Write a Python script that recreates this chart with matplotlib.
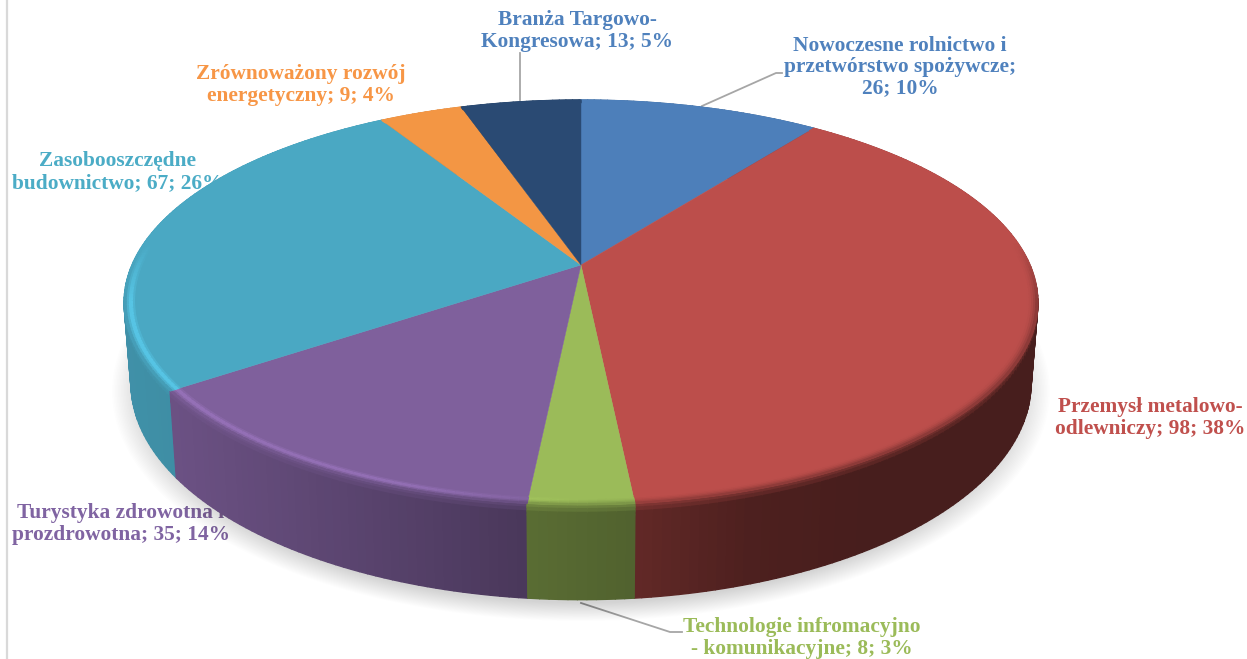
import numpy as np
import matplotlib
matplotlib.use("Agg")
import matplotlib.pyplot as plt
from matplotlib.collections import PolyCollection

categories = [
    "Nowoczesne rolnictwo i\nprzetwórstwo spożywcze;",
    "Przemysł metalowo-\nodlewniczy;",
    "Technologie infromacyjno\n- komunikacyjne;",
    "Turystyka zdrowotna i\nprozdrowotna;",
    "Zasobooszczędne\nbudownictwo;",
    "Zrównoważony rozwój\nenergetyczny;",
    "Branża Targowo-\nKongresowa;",
]
values = [26, 98, 8, 35, 67, 9, 13]
percents = [10, 38, 3, 14, 26, 4, 5]
slice_colors = ["#4d7fba", "#bc4e4b", "#9bbb59", "#7f609c", "#4aa8c3", "#f39644", "#2a4a73"]
label_colors = ["#4f81bd", "#c0504d", "#9bbb59", "#8064a2", "#4bacc6", "#f79646", "#4f81bd"]
label_pos = [(900, 67), (1150, 418), (802, 638), (121, 524), (118, 172), (301, 85), (577, 31)]

CX, CY = 581, 265
A, B, K = 449, 195.5, 0.185
CY2, SX2, SY2 = 343, 0.985, 1.07


def top_xy(theta, r=1.0):
    u, v = r * np.sin(theta), -r * np.cos(theta)
    d = 1 - K * v
    return CX + A * u / d, CY + B * v / d


def bottom_xy(theta):
    u, v = np.sin(theta), -np.cos(theta)
    d = 1 - K * v
    return CX + SX2 * A * u / d, CY2 + SY2 * B * v / d


def hex_rgb(c):
    return np.array(matplotlib.colors.to_rgb(c))


def side_shade(x):
    return np.interp(x, [130, 178, 527, 635, 750, 860], [0.86, 0.84, 0.58, 0.52, 0.41, 0.38])


def add_side_and_rim(ax, edges):
    rim_polys, rim_cols = [], []
    side = []
    for i, col in enumerate(slice_colors):
        base = hex_rgb(col)
        th = np.arange(edges[i], edges[i + 1], np.radians(1.0))
        th = np.append(th, edges[i + 1])
        for t0, t1 in zip(th[:-1], th[1:]):
            mid = (t0 + t1) / 2
            xm, _ = top_xy(mid)
            v = -np.cos(mid)
            fade = np.clip((v + 0.12) / 0.3, 0, 1)
            dark = base * side_shade(xm)
            hl = np.clip((600 - xm) / 200, 0, 1) * fade
            edge_col = base * (1 - 0.5 * fade) + dark * 0.5 * fade

            # rim of the top face, bevel look
            radii = np.linspace(0.978, 1.0, 6)
            for j in range(5):
                tt = (j + 0.5) / 5
                s = tt ** 2 * 0.5 * fade
                c = base * (1 - s) + dark * s
                c = c * (1 + 0.2 * hl * np.sin(np.pi * min(tt * 1.2, 1)))
                a0, b0 = top_xy(t0, radii[j])
                a1, b1 = top_xy(t1, radii[j])
                a2, b2 = top_xy(t1, radii[j + 1])
                a3, b3 = top_xy(t0, radii[j + 1])
                rim_polys.append([(a0, b0), (a1, b1), (a2, b2), (a3, b3)])
                rim_cols.append(np.clip(c, 0, 1))

            # side wall, soft edge just under the rim
            x0, y0 = top_xy(t0)
            x1, y1 = top_xy(t1)
            x2, y2 = bottom_xy(t1)
            x3, y3 = bottom_xy(t0)
            steps = [0, 0.04, 0.08, 0.12, 1]
            for j in range(4):
                f0, f1 = steps[j], steps[j + 1]
                mix = min(f1 / 0.12, 1)
                c = edge_col * (1 - mix) + dark * mix
                p = [
                    (x0 + (x3 - x0) * f0, y0 + (y3 - y0) * f0),
                    (x1 + (x2 - x1) * f0, y1 + (y2 - y1) * f0),
                    (x1 + (x2 - x1) * f1, y1 + (y2 - y1) * f1),
                    (x0 + (x3 - x0) * f1, y0 + (y3 - y0) * f1),
                ]
                side.append((v, p, np.clip(c, 0, 1)))

    side.sort(key=lambda s: s[0])
    ax.add_collection(PolyCollection([s[1] for s in side], facecolors=[s[2] for s in side],
                                     edgecolors="face", linewidths=1.0, zorder=3))
    ax.add_collection(PolyCollection(rim_polys, facecolors=rim_cols, edgecolors="face",
                                     linewidths=0.8, zorder=5))


def main():
    fig = plt.figure(figsize=(12.47, 6.59), dpi=100)
    ax = fig.add_axes([0, 0, 1, 1])
    ax.set_xlim(0, 1247)
    ax.set_ylim(659, 0)
    ax.axis("off")

    # chart border on the left
    ax.plot([7, 7], [0, 659], color="#d9d9d9", lw=1.6, zorder=1)

    # labels sit under the pie, it covers a bit of them
    for name, val, pct, col, pos in zip(categories, values, percents, label_colors, label_pos):
        if name.startswith("Nowoczesne"):
            txt = f"{name}\n{val}; {pct}%"
        else:
            txt = f"{name} {val}; {pct}%"
        ax.text(pos[0], pos[1], txt, color=col, ha="center", va="center", fontsize=15.4,
                family="Liberation Serif", weight="bold", linespacing=1.08, zorder=1)

    # leader lines
    ax.plot([520, 520], [100, 53], color="#a6a6a6", lw=1.3, zorder=1.5)
    ax.plot([702, 776, 782], [106, 73, 73], color="#a6a6a6", lw=1.3, zorder=1.5)
    ax.plot([581, 670, 682], [603, 632, 632], color="#a6a6a6", lw=1.3, zorder=1.5)

    edges = np.concatenate([[0], np.cumsum(values)]) / np.sum(values) * 2 * np.pi

    # soft shadow below the pie
    circle = np.linspace(0, 2 * np.pi, 240)
    sx, sy = bottom_xy(circle)
    for g in np.linspace(1.06, 0.99, 22):
        ax.fill(CX + (sx - CX) * (g - 0.018), CY2 + 6 + (sy - CY2) * g, color="black",
                alpha=0.009, lw=0, zorder=2)

    add_side_and_rim(ax, edges)

    # top face
    for i, col in enumerate(slice_colors):
        th = np.linspace(edges[i], edges[i + 1], 100)
        x, y = top_xy(th)
        ax.fill(np.r_[CX, x], np.r_[CY, y], color=col, lw=0.3, zorder=4)

    fig.savefig("out.png", dpi=100, facecolor="white")


if __name__ == "__main__":
    main()
